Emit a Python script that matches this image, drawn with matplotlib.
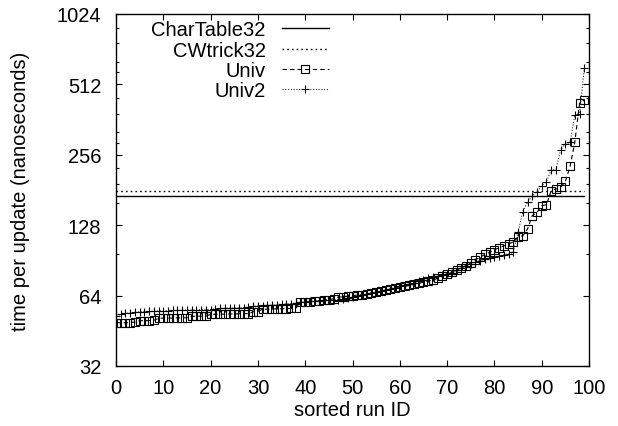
import matplotlib
matplotlib.use("Agg")
import matplotlib.pyplot as plt
from matplotlib.ticker import FixedLocator, NullFormatter

plt.rcParams['font.family'] = ['Liberation Sans', 'DejaVu Sans']

# ---------------- data ----------------
run_ids = list(range(100))

chartable32 = [171.0] * 100
cwtrick32 = [180.0] * 100

univ = [
    49.0, 49.0, 49.0, 49.1, 49.3,
    50.0, 50.0, 50.0, 50.2,
    51.2, 51.3, 51.3, 51.3, 51.4, 51.4, 51.5,
    52.2, 52.2, 52.3, 52.3,
    53.2, 53.2, 53.3, 53.3, 53.4, 53.4, 53.5, 53.6, 53.6,
    54.6, 54.7,
    56.0, 56.0, 56.1, 56.2, 56.2, 56.3, 56.4, 56.5,
    59.8, 60.0, 60.2, 60.5, 60.8, 61.2, 61.5, 62.0,
    63.0, 63.3, 63.6, 64.0, 64.3, 64.6, 65.0,
    65.6, 66.0, 66.8, 67.5, 68.2, 69.0, 69.7,
    70.0, 70.8, 71.5, 72.2, 73.0, 73.8, 74.5,
    76.0, 77.5, 79.0, 80.5, 82.0, 84.0, 86.0,
    88.0, 91.0, 93.5, 96.0, 98.0,
    100.5, 102.5, 104.5, 106.5, 108.5,
    113.6, 115.4, 123.3, 140.5, 145.3, 155.1, 156.6, 179.8, 182.8, 185.8,
    197.0, 228.6, 289.6, 425.0, 439.0,
]

univ2 = [
    52.5, 53.2, 53.7, 54.0, 54.3,
    54.6, 54.7, 54.8, 54.9, 55.0, 55.0,
    55.2, 55.3, 55.3, 55.4, 55.5, 55.5, 55.6, 55.7, 55.8, 55.8,
    56.2, 56.4, 56.5, 56.6, 56.7, 56.8, 56.9, 57.0,
    57.5, 57.7, 57.9, 58.1, 58.3, 58.5, 58.8, 59.0, 59.2, 59.5,
    60.0, 60.2, 60.4, 60.6, 60.8, 61.0, 61.1, 61.2,
    61.5, 62.0, 62.5,
    63.0, 63.6, 64.3, 65.0, 65.7,
    66.3, 67.0, 67.8, 68.5, 69.3, 70.2, 71.0,
    71.8, 72.8, 73.8, 74.8, 75.8, 76.9,
    77.5, 78.3, 79.2, 80.0,
    82.0, 84.0, 86.0,
    87.5, 89.0, 90.3,
    91.5, 92.5, 93.5, 94.5, 95.5, 96.5, 98.0,
    119.4, 146.2, 160.3, 171.2, 178.0, 188.8, 196.4, 220.4, 221.0, 269.0,
    284.6, 289.6, 378.6, 382.6, 600.0,
]

xticks = [0, 10, 20, 30, 40, 50, 60, 70, 80, 90, 100]
yticks = [32, 64, 128, 256, 512, 1024]
yminor = [96, 160, 192, 224, 288, 320, 384, 448, 576, 640, 768, 896]

# ---------------- figure ----------------
fig = plt.figure(figsize=(6.18, 4.27), dpi=100)
ax = fig.add_axes([116 / 618, 1 - 367 / 427, (589 - 116) / 618, (367 - 15) / 427])

FS = 14.5

ax.plot(run_ids, chartable32, color='black', lw=1.0, ls='-', label='CharTable32')
ax.plot(run_ids, cwtrick32, color='black', lw=1.0, ls=(0, (1.2, 2.2)), label='CWtrick32')
ax.plot(run_ids, univ, color='black', lw=0.8, ls=(0, (4.0, 2.8)),
        marker='s', markersize=5.2, markerfacecolor='none', markeredgecolor='black',
        markeredgewidth=0.8, label='Univ')
ax.plot(run_ids, univ2, color='#333333', lw=0.8, ls=(0, (1.0, 1.5)),
        marker='+', markersize=6, markeredgecolor='black', markeredgewidth=0.8,
        label='Univ2')

ax.set_yscale('log', base=2)
ax.set_ylim(32, 1024)
ax.set_xlim(0, 100)

ax.set_xticks(xticks)
ax.set_xticklabels([str(t) for t in xticks], fontsize=FS)
ax.set_yticks(yticks)
ax.set_yticklabels([str(t) for t in yticks], fontsize=FS)
ax.yaxis.set_minor_locator(FixedLocator(yminor))
ax.yaxis.set_minor_formatter(NullFormatter())
ax.xaxis.set_minor_locator(FixedLocator([]))

ax.tick_params(axis='both', which='major', direction='in', length=4.0, width=0.8,
               top=True, right=True)
ax.tick_params(axis='x', which='major', pad=9)
ax.tick_params(axis='y', which='major', pad=10.5)
ax.tick_params(axis='y', which='minor', direction='in', length=2.0, width=0.8,
               left=True, right=True)
for s in ax.spines.values():
    s.set_linewidth(1.0)

ax.set_xlabel('sorted run ID', fontsize=FS, labelpad=1.5)
ax.set_ylabel('time per update (nanoseconds)', fontsize=FS, labelpad=19)

leg = ax.legend(loc='upper right', bbox_to_anchor=(329 / 618, 1 - 21.5 / 427),
                bbox_transform=fig.transFigure, frameon=False, fontsize=FS,
                markerfirst=False, handlelength=2.35, handletextpad=0.8,
                labelspacing=0.06, borderpad=0, borderaxespad=0, numpoints=1)

fig.savefig('out.png', dpi=100)
